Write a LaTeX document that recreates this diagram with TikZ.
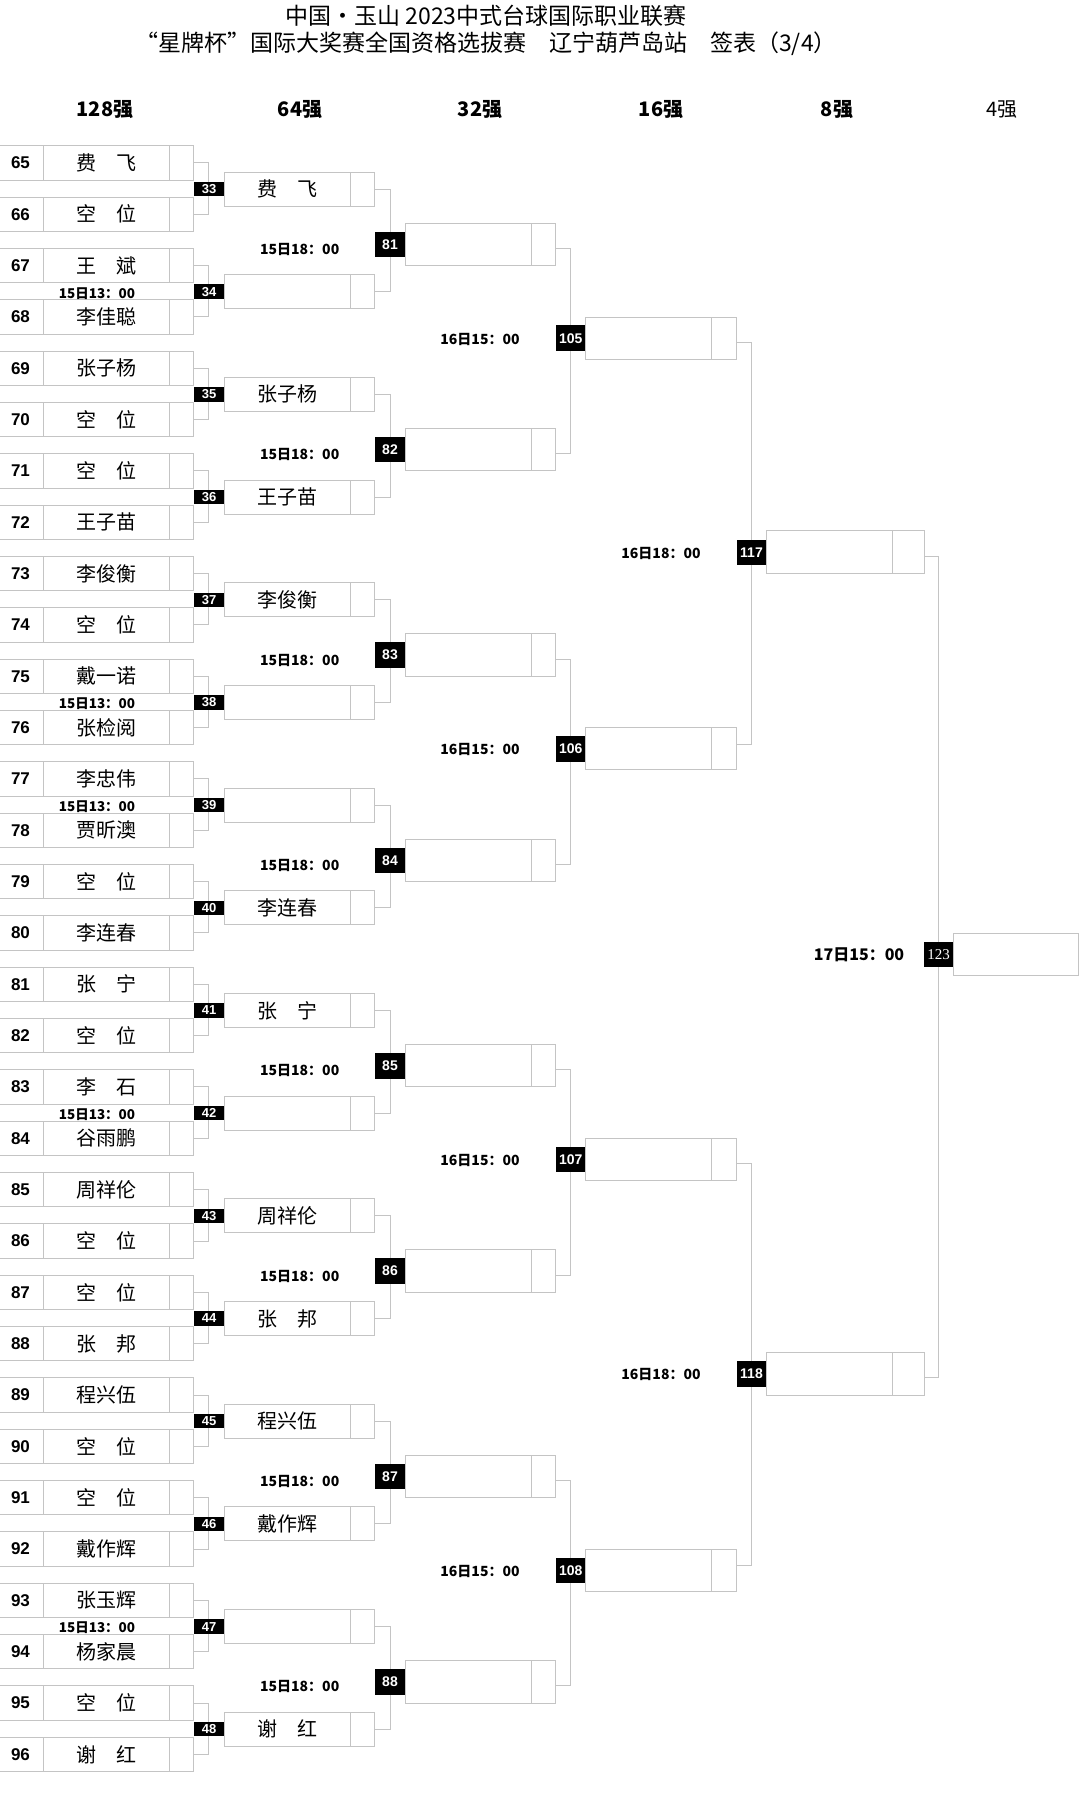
\documentclass[tikz,border=0pt]{standalone}
\usepackage{fontspec}
\setmainfont{Liberation Sans}
\newfontfamily\cjk{Noto Sans CJK SC}
\newfontfamily\numserif{Liberation Serif}
\definecolor{linegray}{RGB}{196,196,196}
\usetikzlibrary{positioning}

\tikzset{
  cellbox/.style={draw=linegray, line width=1pt, inner sep=0pt, outer sep=0pt},
  seedcell/.style={cellbox, minimum width=45pt, minimum height=34.3pt, font=\bfseries\fontsize{17}{17}\selectfont},
  playercell/.style={cellbox, minimum width=126pt, font=\cjk\fontsize{20}{20}\selectfont},
  scorecell/.style={cellbox, minimum width=24pt},
  matchtag/.style={fill=black, text=white, inner sep=0pt, outer sep=0pt, minimum width=30pt, minimum height=25.6pt, font=\bfseries\fontsize{14}{14}\selectfont},
  timetext/.style={font=\cjk\bfseries\fontsize{14}{14}\selectfont},
  roundhead/.style={font=\cjk\bfseries\fontsize{20}{20}\selectfont},
  bracketline/.style={draw=linegray, line width=1pt}
}

\begin{document}
\begin{tikzpicture}[x=1pt,y=-1pt]
\useasboundingbox (0,0) rectangle (1080,1793);

% title and round heads
\node[font=\cjk\fontsize{23}{23}\selectfont] (title1) at (486,16) {中国•玉山 2023中式台球国际职业联赛};
\node[font=\cjk\fontsize{23}{23}\selectfont] (title2) at (486,43.5) {“星牌杯”国际大奖赛全国资格选拔赛　辽宁葫芦岛站　签表（3/4）};
\node[roundhead] (r128) at (105,110) {128强};
\node[roundhead] (r64) at (300,110) {64强};
\node[roundhead] (r32) at (480,110) {32强};
\node[roundhead] (r16) at (661,110) {16强};
\node[roundhead] (r8) at (837,110) {8强};
\node[roundhead, font=\cjk\fontsize{20}{20}\selectfont] (r4) at (1002,110) {4强};

% 128
\foreach \who [count=\i from 0] in {费　飞, 空　位, 王　斌, 李佳聪, 张子杨, 空　位, 空　位, 王子苗,
    李俊衡, 空　位, 戴一诺, 张检阅, 李忠伟, 贾昕澳, 空　位, 李连春,
    张　宁, 空　位, 李　石, 谷雨鹏, 周祥伦, 空　位, 空　位, 张　邦,
    程兴伍, 空　位, 空　位, 戴作辉, 张玉辉, 杨家晨, 空　位, 谢　红}{
  \pgfmathsetmacro\yy{162.85+51.34*\i}
  \pgfmathtruncatemacro\sd{65+\i}
  \node[seedcell] (n\sd) at (20.5,\yy) {\sd};
  \node[playercell, minimum height=34.3pt, right=0pt of n\sd] (p\sd) {\who};
  \node[scorecell, minimum height=34.3pt, right=0pt of p\sd] (q\sd) {};
}
\foreach \k in {1,5,6,9,14}{
  \pgfmathsetmacro\yy{190.5+102.68*\k}
  \node[timetext, font=\cjk\bfseries\fontsize{13.5}{13.5}\selectfont] (e\k) at (97,\yy) {15日13：00};
}

% 64
\foreach \who [count=\k from 0] in {费　飞, {}, 张子杨, 王子苗, 李俊衡, {}, {}, 李连春,
    张　宁, {}, 周祥伦, 张　邦, 程兴伍, 戴作辉, {}, 谢　红}{
  \pgfmathtruncatemacro\m{33+\k}
  \pgfmathtruncatemacro\a{65+2*\k}
  \pgfmathtruncatemacro\b{66+2*\k}
  \pgfmathsetmacro\yy{189+102.68*\k}
  \draw[bracketline] (q\a.east) -- ++(15,0) |- (q\b.east);
  \node[matchtag, minimum height=14.4pt, font=\bfseries\fontsize{13}{13}\selectfont] (t\m) at (209,\yy) {\m};
  \node[playercell, minimum height=34pt, right=0pt of t\m] (w\m) {\who};
  \node[scorecell, minimum height=34pt, right=0pt of w\m] (s\m) {};
}

% 32
\foreach \j in {0,...,7}{
  \pgfmathtruncatemacro\m{81+\j}
  \pgfmathtruncatemacro\a{33+2*\j}
  \pgfmathtruncatemacro\b{34+2*\j}
  \pgfmathsetmacro\yy{244.3+205.36*\j}
  \draw[bracketline] (s\a.east) -- ++(16,0) |- (s\b.east);
  \node[matchtag] (t\m) at (390,\yy) {\m};
  \node[playercell, minimum height=42.4pt, right=0pt of t\m] (w\m) {};
  \node[scorecell, minimum height=42.4pt, right=0pt of w\m] (s\m) {};
  \node[timetext] (h\m) at (299.7,\yy+5) {15日18：00};
}

% 16
\foreach \p in {0,...,3}{
  \pgfmathtruncatemacro\m{105+\p}
  \pgfmathtruncatemacro\a{81+2*\p}
  \pgfmathtruncatemacro\b{82+2*\p}
  \pgfmathsetmacro\yy{338.2+410.7*\p}
  \draw[bracketline] ([yshift=-4pt]s\a.east) -- ++(15.4,0) |- ([yshift=-4pt]s\b.east);
  \node[matchtag] (t\m) at (570.7,\yy) {\m};
  \node[playercell, minimum width=125.6pt, minimum height=42pt, right=0pt of t\m] (w\m) {};
  \node[scorecell, minimum width=25pt, minimum height=42pt, right=0pt of w\m] (s\m) {};
  \node[timetext] (h\m) at (480,\yy+1) {16日15：00};
}

% 8
\foreach \q in {0,1}{
  \pgfmathtruncatemacro\m{117+\q}
  \pgfmathtruncatemacro\a{105+2*\q}
  \pgfmathtruncatemacro\b{106+2*\q}
  \pgfmathsetmacro\yy{552.3+821.4*\q}
  \draw[bracketline] ([yshift=-4pt]s\a.east) -- ++(15.2,0) |- ([yshift=4.5pt]s\b.east);
  \node[matchtag] (t\m) at (751.5,\yy) {\m};
  \node[playercell, minimum width=125.8pt, minimum height=42.7pt, right=0pt of t\m] (w\m) {};
  \node[scorecell, minimum width=32pt, minimum height=42.7pt, right=0pt of w\m] (s\m) {};
  \node[timetext] (h\m) at (661,\yy+1) {16日18：00};
}

% 4
\draw[bracketline] ([yshift=-4.5pt]s117.east) -- ++(14.2,0) |- ([yshift=-3.5pt]s118.east);
\node[matchtag, font=\numserif\fontsize{15}{15}\selectfont] (t123) at (938.5,954.3) {123};
\node[playercell, minimum width=125.3pt, minimum height=42pt, right=0pt of t123] (w123) {};
\node[timetext, font=\cjk\bfseries\fontsize{16}{16}\selectfont] (h123) at (859,955) {17日15：00};
\end{tikzpicture}
\end{document}
